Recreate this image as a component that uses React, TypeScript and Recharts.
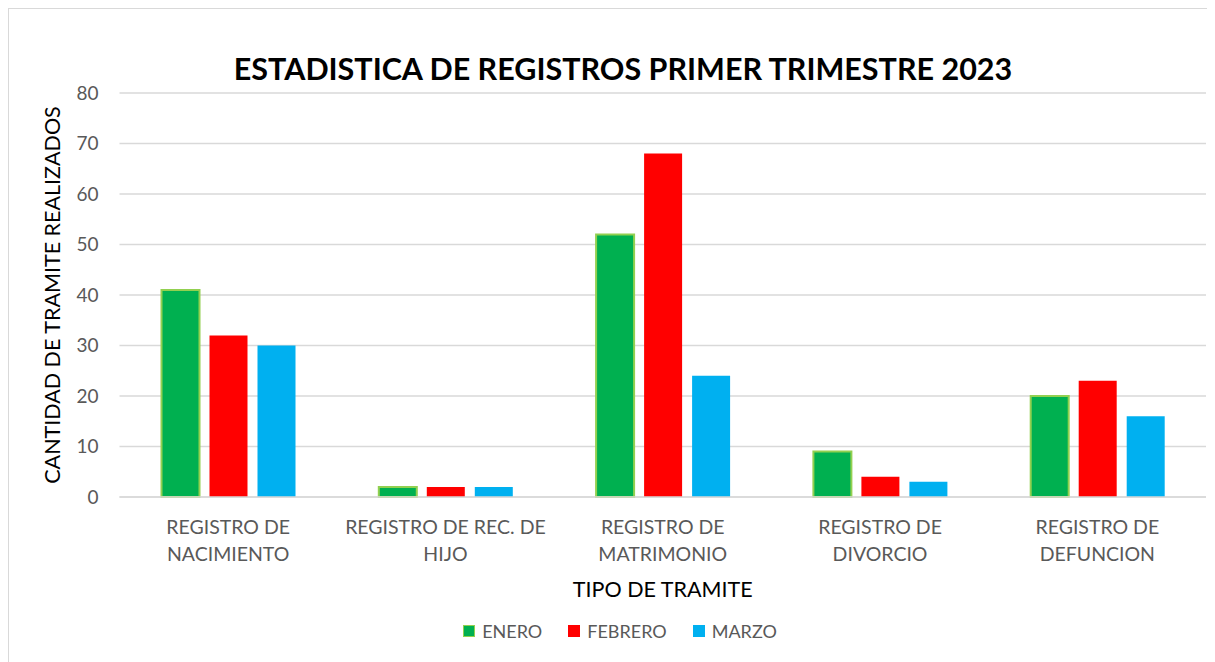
import { BarChart, Bar, XAxis, YAxis, CartesianGrid } from 'recharts';

const categories = [
  'REGISTRO DE\nNACIMIENTO',
  'REGISTRO DE REC. DE\nHIJO',
  'REGISTRO DE\nMATRIMONIO',
  'REGISTRO DE\nDIVORCIO',
  'REGISTRO DE\nDEFUNCION',
];
const enero = [41, 2, 52, 9, 20];
const febrero = [32, 2, 68, 4, 23];
const marzo = [30, 2, 24, 3, 16];
const yTicks = [0, 10, 20, 30, 40, 50, 60, 70, 80];

const series = [
  { key: 'ENERO', fill: '#00B050', stroke: '#92D050' },
  { key: 'FEBRERO', fill: '#FF0000', stroke: 'none' },
  { key: 'MARZO', fill: '#00B0F0', stroke: 'none' },
];

const data = categories.map((name, i) => ({
  name,
  ENERO: enero[i],
  FEBRERO: febrero[i],
  MARZO: marzo[i],
}));

const FONT = 'Lato, "Open Sans", sans-serif';
const GRAY = '#595959';

const CategoryTick = (props: any) => {
  const { x, y, payload } = props;
  const lines = String(payload.value).split('\n');
  return (
    <text x={x} y={y} textAnchor="middle" fill={GRAY} fontSize={19.5} fontFamily={FONT}>
      {lines.map((line, i) => (
        <tspan key={i} x={x} y={y + 37 + i * 27}>{line}</tspan>
      ))}
    </text>
  );
};

export default function App() {
  return (
    <div
      style={{
        position: 'relative',
        width: 1207,
        height: 654,
        borderTop: '1px solid #d9d9d9',
        borderLeft: '1px solid #d9d9d9',
        boxSizing: 'border-box',
        fontFamily: FONT,
      }}
    >
      <div
        style={{
          position: 'absolute',
          left: 0,
          width: 1228,
          top: 41,
          textAlign: 'center',
          fontSize: 30.5,
          fontWeight: 700,
          color: '#000',
        }}
      >
        ESTADISTICA DE REGISTROS PRIMER TRIMESTRE 2023
      </div>
      <BarChart
        width={1206}
        height={653}
        data={data}
        margin={{ top: 84, right: 9, bottom: 85, left: 0 }}
        barSize={38}
        barGap={10}
      >
        <CartesianGrid vertical={false} stroke="#d9d9d9" strokeWidth={1.5} />
        <XAxis
          dataKey="name"
          height={80}
          axisLine={{ stroke: '#d9d9d9', strokeWidth: 1.5 }}
          tickLine={false}
          tickSize={0}
          tickMargin={0}
          tick={<CategoryTick />}
          interval={0}
          label={{
            value: 'TIPO DE TRAMITE',
            position: 'bottom',
            offset: 5,
            fill: '#000',
            fontSize: 21.5,
            fontFamily: FONT,
          }}
        />
        <YAxis
          width={110.5}
          domain={[0, 80]}
          ticks={yTicks}
          axisLine={false}
          tickLine={false}
          tickSize={0}
          tickMargin={21}
          tick={{ fill: GRAY, fontSize: 19, fontFamily: FONT }}
          label={{
            value: 'CANTIDAD DE TRAMITE REALIZADOS',
            angle: -90,
            position: 'center',
            dx: -12,
            fill: '#000',
            fontSize: 21.5,
            fontFamily: FONT,
          }}
        />
        {series.map((s) => (
          <Bar
            key={s.key}
            dataKey={s.key}
            fill={s.fill}
            stroke={s.stroke}
            strokeWidth={s.stroke === 'none' ? 0 : 2}
            isAnimationActive={false}
          />
        ))}
      </BarChart>
      <div
        style={{
          position: 'absolute',
          left: 0,
          width: 1222,
          top: 611,
          display: 'flex',
          justifyContent: 'center',
          gap: 26,
          fontSize: 18,
          color: GRAY,
        }}
      >
        {series.map((s) => (
          <div key={s.key} style={{ display: 'flex', alignItems: 'center', gap: 7 }}>
            <span
              style={{
                display: 'inline-block',
                width: s.stroke === 'none' ? 12 : 10,
                height: s.stroke === 'none' ? 12 : 10,
                background: s.fill,
                border: s.stroke === 'none' ? 'none' : `1px solid ${s.stroke}`,
              }}
            />
            <span>{s.key}</span>
          </div>
        ))}
      </div>
    </div>
  );
}
